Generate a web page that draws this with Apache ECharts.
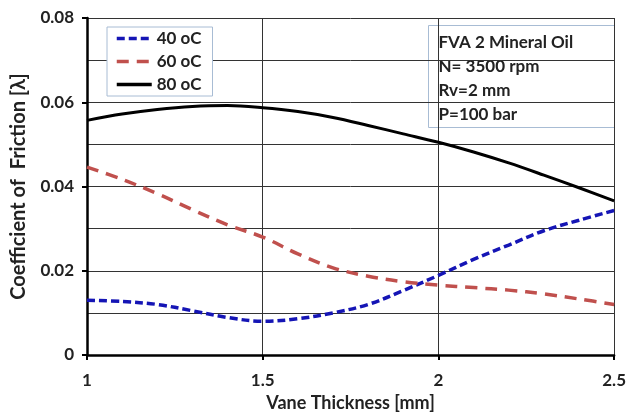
<!DOCTYPE html>
<html><head><meta charset="utf-8">
<script src="https://cdn.jsdelivr.net/npm/echarts@6/dist/echarts.min.js"></script>
<style>html,body{margin:0;padding:0;background:#fff}#c{width:629px;height:417px}</style>
</head><body><div id="c"></div>
<script>
const xs = [1.0,1.1,1.2,1.3,1.4,1.5,1.6,1.7,1.8,1.9,2.0,2.1,2.2,2.3,2.4,2.5];
const s40 = [0.0130,0.0127,0.0120,0.0105,0.0089,0.0080,0.0086,0.0100,0.0120,0.0153,0.0189,0.0227,0.0261,0.0295,0.0320,0.0343];
const s60 = [0.0446,0.0417,0.0383,0.0345,0.0309,0.0280,0.0240,0.0207,0.0187,0.0174,0.0166,0.0160,0.0154,0.0145,0.0133,0.0120];
const s80 = [0.0557,0.0572,0.0583,0.0590,0.0592,0.0587,0.0578,0.0564,0.0545,0.0525,0.0505,0.0482,0.0456,0.0427,0.0397,0.0366];
const seriesNames = ['40 oC','60 oC','80 oC'];
const noteLines = ['FVA 2 Mineral Oil','N= 3500 rpm','Rv=2 mm','P=100 bar'];
const xTitle = 'Vane Thickness [mm]';
const yTitle = 'Coefficient of  Friction [λ]';

const FONT = 'Lato';
const TXT = '#222';
const pair = a => xs.map((x,i)=>[x,a[i]]);
const chart = echarts.init(document.getElementById('c'));
chart.setOption({
  animation:false,
  grid:{left:87,right:13,top:18,bottom:60},
  xAxis:{type:'value',min:1,max:2.5,interval:0.5,
    name:xTitle,nameLocation:'middle',nameGap:39,
    nameTextStyle:{fontFamily:FONT,fontWeight:'bold',fontSize:18,color:TXT},
    axisLine:{show:true,onZero:false,lineStyle:{color:'#000',width:2.5}},
    axisTick:{show:true,inside:false,length:5,lineStyle:{color:'#000',width:2}},
    axisLabel:{fontFamily:FONT,fontWeight:'bold',fontSize:17,color:TXT,margin:17,
      formatter:v=>String(v)},
    splitLine:{show:true,lineStyle:{color:'#333',width:1}}},
  yAxis:{type:'value',min:0,max:0.08,interval:0.02,
    name:yTitle,nameLocation:'middle',nameGap:58,nameRotate:90,
    nameTextStyle:{fontFamily:FONT,fontWeight:'bold',fontSize:20,color:TXT},
    axisLine:{show:true,lineStyle:{color:'#000',width:2.5}},
    axisTick:{show:true,length:5,lineStyle:{color:'#000',width:2}},
    axisLabel:{fontFamily:FONT,fontWeight:'bold',fontSize:17,color:TXT,margin:13,
      formatter:v=>v===0?'0':v.toFixed(2)},
    splitLine:{show:true,lineStyle:{color:'#333',width:1}},
    minorTick:{show:false,splitNumber:2},
    minorSplitLine:{show:true,lineStyle:{color:'#333',width:1}}},
  legend:{show:true,orient:'vertical',left:107,top:27,
    backgroundColor:'#fff',borderColor:'#a8bcd4',borderWidth:1,
    padding:[3,11,3,8],itemGap:6,itemWidth:35,itemHeight:14,
    itemStyle:{opacity:0},
    lineStyle:{width:3.5},
    textStyle:{fontFamily:FONT,fontWeight:'bold',fontSize:17,lineHeight:17,color:TXT},
    data:seriesNames},
  series:[
    {name:seriesNames[0],type:'line',data:pair(s40),smooth:0.35,symbol:'none',
      lineStyle:{color:'#1515b5',width:3.5,type:[8,4]},itemStyle:{color:'#1515b5'}},
    {name:seriesNames[1],type:'line',data:pair(s60),smooth:0.35,symbol:'none',
      lineStyle:{color:'#c0504d',width:3.5,type:[12,8]},itemStyle:{color:'#c0504d'}},
    {name:seriesNames[2],type:'line',data:pair(s80),smooth:0.35,symbol:'none',
      lineStyle:{color:'#000',width:3},itemStyle:{color:'#000'}}
  ],
  graphic:[{type:'group',left:428,top:25,children:[
    {type:'rect',shape:{x:0,y:0,width:186,height:102},
      style:{fill:'#fff',stroke:'#a8bcd4',lineWidth:1}},
    ...noteLines.map((t,i)=>({type:'text',x:10,y:9+i*23.7,
      style:{text:t,fontFamily:FONT,fontWeight:'bold',fontSize:17,fill:TXT}}))
  ]}]
});
</script></body></html>
